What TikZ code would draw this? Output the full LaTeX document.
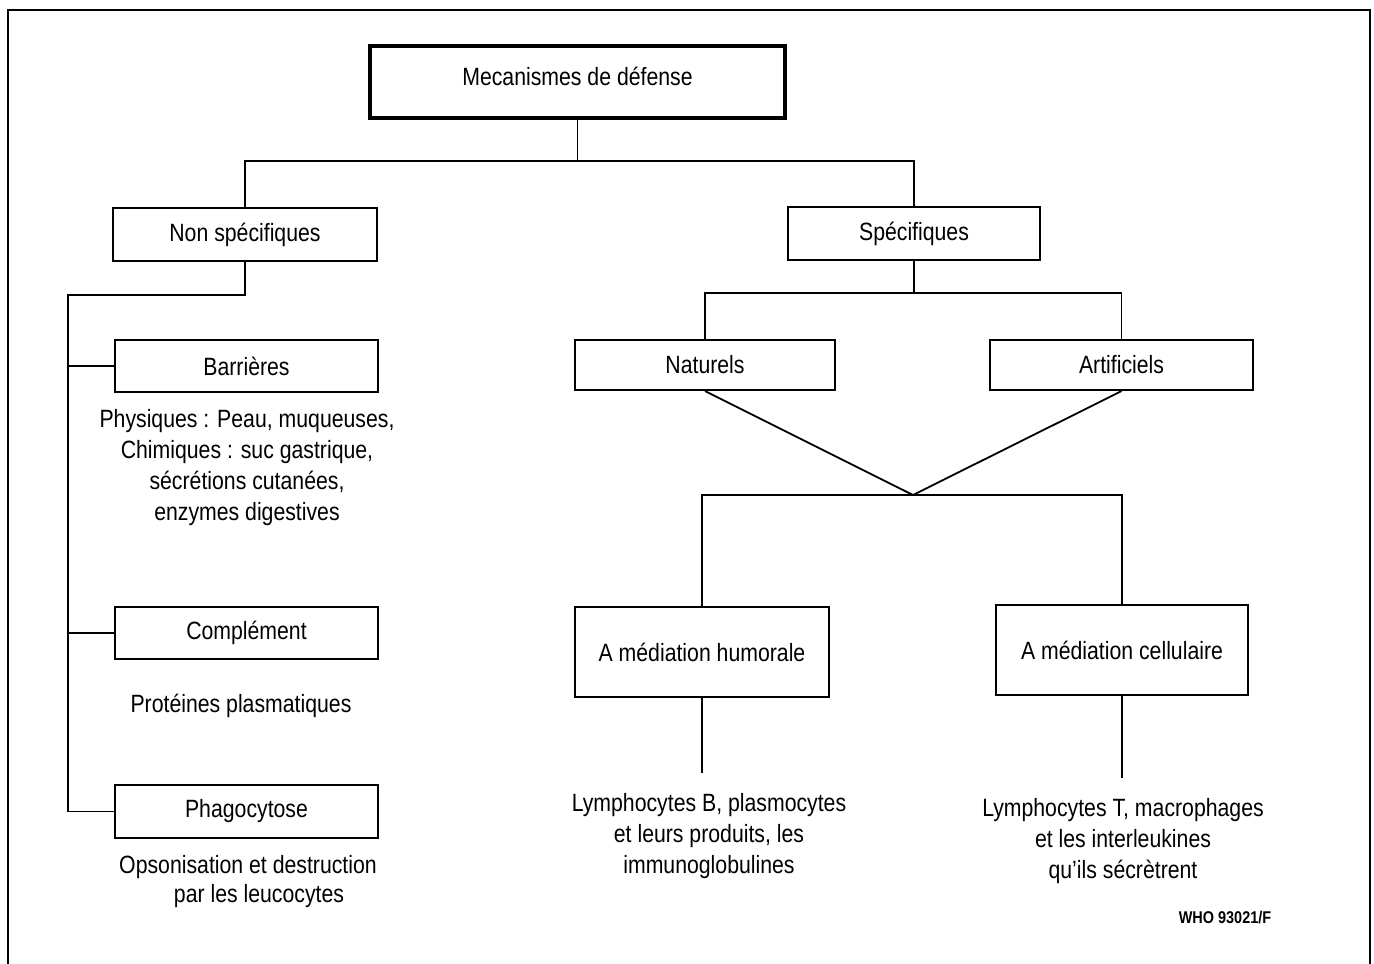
\documentclass[tikz,border=0pt]{standalone}
\usepackage{fontspec}
\setmainfont{Liberation Sans}[FakeStretch=0.85]
\begin{document}
\begin{tikzpicture}[x=1pt,y=-1pt,
  every node/.style={font=\fontsize{25}{31}\selectfont, inner sep=0pt},
  box/.style={draw, line width=2.2pt, minimum height=52pt},
  link/.style={line width=1.8pt},
  note/.style={align=center}]
\useasboundingbox (0,0) rectangle (1374,964);
% outer frame (open at the bottom)
\draw[line width=1.5pt] (8,964) -- (8,10) -- (1370,10) -- (1370,964);

% root
\node[box, line width=3.2pt, minimum width=415pt, minimum height=72pt] (root) at (577.5,82) {\raisebox{11pt}{Mecanismes de défense}};

% first level
\node[box, minimum width=264pt, minimum height=53pt] (nonspec) at (245,234.5) {Non spécifiques};
\node[box, minimum width=252pt, minimum height=53pt] (spec) at (914,233.5) {Spécifiques};

% non-specific branch
\node[box, minimum width=263pt] (barr) at (246.5,366) {Barrières};
\node[note] (barrtxt) at (247,468) {Physiques : Peau, muqueuses,\\Chimiques : suc gastrique,\\sécrétions cutanées,\\enzymes digestives};
\node[box, minimum width=263pt] (comp) at (246.5,633) {Complément};
\node[note] (comptxt) at (241,706) {Protéines plasmatiques};
\node[box, minimum width=263pt, minimum height=53pt] (phago) at (246.5,811.5) {Phagocytose};
\node[note, font=\fontsize{25}{29}\selectfont] (phagotxt) at (248,882) {Opsonisation et destruction\\\hspace*{22pt}par les leucocytes};

% specific branch
\node[box, minimum width=260pt, minimum height=50pt] (nat) at (705,365) {Naturels};
\node[box, minimum width=263pt, minimum height=50pt] (art) at (1121.5,365) {Artificiels};
\node[box, minimum width=254pt, minimum height=90pt] (hum) at (702,652) {A médiation humorale};
\node[box, minimum width=252pt, minimum height=90pt] (cel) at (1122,650) {A médiation cellulaire};
\node[note] (humtxt) at (709,836) {Lymphocytes B, plasmocytes\\et leurs produits, les\\immunoglobulines};
\node[note] (celtxt) at (1123,841) {Lymphocytes T, macrophages\\et les interleukines\\qu'ils sécrètrent};
\node[font=\bfseries\fontsize{17}{19}\selectfont] (ref) at (1225,918) {WHO 93021/F};

% junction points
\coordinate (j1) at (577.5,161);
\coordinate (spine) at (68,295);
\coordinate (j2) at (914,293);
\coordinate (v) at (913,495);

% connectors
\draw[link] (root.south) -- (j1);
\draw[link] (j1) -| (nonspec.north);
\draw[link] (j1) -| (spec.north);

\draw[link] (nonspec.south) |- (spine) |- (phago.west);
\draw[link] (spine |- barr.west) -- (barr.west);
\draw[link] (spine |- comp.west) -- (comp.west);

\draw[link] (spec.south) -- (j2);
\draw[link] (j2) -| (nat.north);
\draw[link] (j2) -| (art.north);

\draw[link] (nat.south) -- (v) -- (art.south);
\draw[link] (v) -| (hum.north);
\draw[link] (v) -| (cel.north);

\draw[link, shorten >=20pt] (hum.south) -- (hum.south |- humtxt.north);
\draw[link, shorten >=20pt] (cel.south) -- (cel.south |- celtxt.north);
\end{tikzpicture}
\end{document}
